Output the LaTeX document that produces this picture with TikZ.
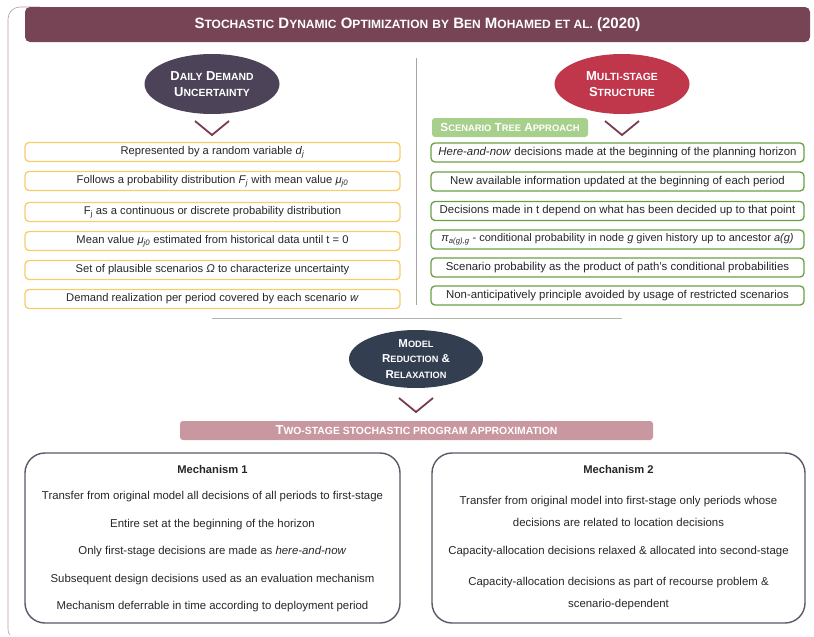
\documentclass[tikz,border=0pt]{standalone}
\usepackage{fontspec}
\usepackage{graphicx}
\setmainfont{Liberation Sans}
\usetikzlibrary{shapes.geometric}
\definecolor{titlebar}{HTML}{774455}
\definecolor{ellA}{HTML}{4D4358}
\definecolor{ellB}{HTML}{C0364A}
\definecolor{ellC}{HTML}{333F50}
\definecolor{chevc}{HTML}{7A3B4E}
\definecolor{yelb}{HTML}{F7CD6C}
\definecolor{grnb}{HTML}{6A9F45}
\definecolor{grnl}{HTML}{A8D08D}
\definecolor{pinkb}{HTML}{C9979F}
\definecolor{mechb}{HTML}{5E5668}
\definecolor{txt}{HTML}{262626}
\definecolor{framec}{HTML}{B89AA9}
\newcommand{\sm}[1]{\scalebox{0.8}{#1}}
\tikzset{
  ybox/.style={draw=yelb, line width=1.3pt, rounded corners=4pt, minimum width=375pt, minimum height=19pt, inner sep=0pt, font=\fontsize{11.2}{13}\selectfont, text=txt},
  gbox/.style={draw=grnb, line width=1.3pt, rounded corners=4pt, minimum width=373pt, minimum height=19pt, inner sep=0pt, font=\fontsize{11.4}{13}\selectfont, text=txt},
  ell/.style={ellipse, minimum width=135pt, minimum height=60pt, inner sep=0pt, text=white, align=center, font=\bfseries\fontsize{13}{16}\selectfont},
  chev/.style={draw=chevc, line width=1.8pt},
  mech/.style={draw=mechb, line width=1.4pt, rounded corners=20pt},
  mtxt/.style={font=\fontsize{11.4}{13}\selectfont, text=txt, inner sep=0pt},
  lbar/.style={inner sep=0pt, text=white, font=\bfseries\fontsize{11.7}{13}\selectfont}
}
\begin{document}
\begin{tikzpicture}[x=1pt,y=-1pt]
\useasboundingbox (0,0) rectangle (814,637);
% outer frame (partial)
\draw[framec, line width=0.6pt, rounded corners=12pt] (40,7) -- (8,7) -- (8,628);
\draw[framec, line width=0.6pt] (8,628) .. controls (8,632) and (9,634) .. (10,635);
% title
\node[fill=titlebar, rounded corners=5pt, minimum width=785pt, minimum height=35pt, inner sep=0pt, text=white, font=\bfseries\fontsize{15}{17}\selectfont] (title) at (417.5,24.5)
  {S\sm{TOCHASTIC} D\sm{YNAMIC} O\sm{PTIMIZATION} \sm{BY} B\sm{EN} M\sm{OHAMED} \sm{ET AL.} (2020)};
% dividers
\draw[gray!70, line width=0.7pt] (416,58) -- (416,305);
\draw[gray!60, line width=0.7pt] (212,318) -- (622,318);
% left column
\node[ell, fill=ellA] (eA) at (212,84) {D\sm{AILY} D\sm{EMAND}\\U\sm{NCERTAINTY}};
\draw[chev] (195,121) -- (212,135) -- (229,121);
\node[ybox] (l1) at (212.5,152) {Represented by a random variable \textit{d}\textsubscript{\textit{j}}};
\node[ybox] (l2) at (212.5,181) {Follows a probability distribution \textit{F}\textsubscript{\textit{j}} with mean value \textit{μ}\textsubscript{\textit{j0}}};
\node[ybox] (l3) at (212.5,212) {F\textsubscript{j} as a continuous or discrete probability distribution};
\node[ybox] (l4) at (212.5,241) {Mean value \textit{μ}\textsubscript{\textit{j0}} estimated from historical data until t = 0};
\node[ybox] (l5) at (212.5,270) {Set of plausible scenarios \textit{Ω} to characterize uncertainty};
\node[ybox] (l6) at (212.5,299) {Demand realization per period covered by each scenario \textit{w}};
% right column
\node[ell, fill=ellB] (eB) at (622,84) {M\sm{ULTI-STAGE}\\S\sm{TRUCTURE}};
\draw[chev] (605,121) -- (622,135) -- (639,121);
\node[fill=grnl, rounded corners=3pt, minimum width=156pt, minimum height=19pt, lbar] (sta) at (510,127.5) {S\sm{CENARIO} T\sm{REE} A\sm{PPROACH}};
\node[gbox] (r1) at (617.5,152.5) {\textit{Here-and-now} decisions made at the beginning of the planning horizon};
\node[gbox] (r2) at (617.5,181.5) {New available information updated at the beginning of each period};
\node[gbox] (r3) at (617.5,211) {Decisions made in t depend on what has been decided up to that point};
\node[gbox, font=\fontsize{11}{13}\selectfont] (r4) at (617.5,239.5) {\textit{π}\textsubscript{\textit{a(g),g}} - conditional probability in node \textit{g} given history up to ancestor \textit{a(g)}};
\node[gbox] (r5) at (617.5,267.5) {Scenario probability as the product of path's conditional probabilities};
\node[gbox] (r6) at (617.5,295.5) {Non-anticipatively principle avoided by usage of restricted scenarios};
% middle
\node[ell, fill=ellC, minimum width=134pt, minimum height=58pt, font=\bfseries\fontsize{11.5}{15.5}\selectfont] (eC) at (416,359) {M\sm{ODEL}\\R\sm{EDUCTION} \&\\R\sm{ELAXATION}};
\draw[chev] (399,398) -- (416,412) -- (433,398);
\node[fill=pinkb, rounded corners=3pt, minimum width=473pt, minimum height=19pt, lbar, font=\bfseries\fontsize{13}{15}\selectfont] (tsp) at (416.5,430.5) {T\sm{WO-STAGE STOCHASTIC PROGRAM APPROXIMATION}};
% mechanism boxes
\draw[mech] (25,453) rectangle (400,623);
\draw[mech] (432,453) rectangle (805,623);
\node[mtxt, font=\bfseries\fontsize{11.2}{13}\selectfont] (m1t) at (212.5,469) {Mechanism 1};
\node[mtxt] (m1a) at (212.5,497) {Transfer from original model all decisions of all periods to first-stage};
\node[mtxt] (m1b) at (212.5,525) {Entire set at the beginning of the horizon};
\node[mtxt] (m1c) at (212.5,552) {Only first-stage decisions are made as \textit{here-and-now}};
\node[mtxt] (m1d) at (212.5,580) {Subsequent design decisions used as an evaluation mechanism};
\node[mtxt] (m1e) at (212.5,607) {Mechanism deferrable in time according to deployment period};
\node[mtxt, font=\bfseries\fontsize{11.2}{13}\selectfont] (m2t) at (618.5,469) {Mechanism 2};
\node[mtxt] (m2a) at (618.5,502) {Transfer from original model into first-stage only periods whose};
\node[mtxt] (m2b) at (618.5,522) {decisions are related to location decisions};
\node[mtxt] (m2c) at (618.5,552) {Capacity-allocation decisions relaxed \& allocated into second-stage};
\node[mtxt] (m2d) at (618.5,583) {Capacity-allocation decisions as part of recourse problem \&};
\node[mtxt] (m2e) at (618.5,605) {scenario-dependent};
\end{tikzpicture}
\end{document}
